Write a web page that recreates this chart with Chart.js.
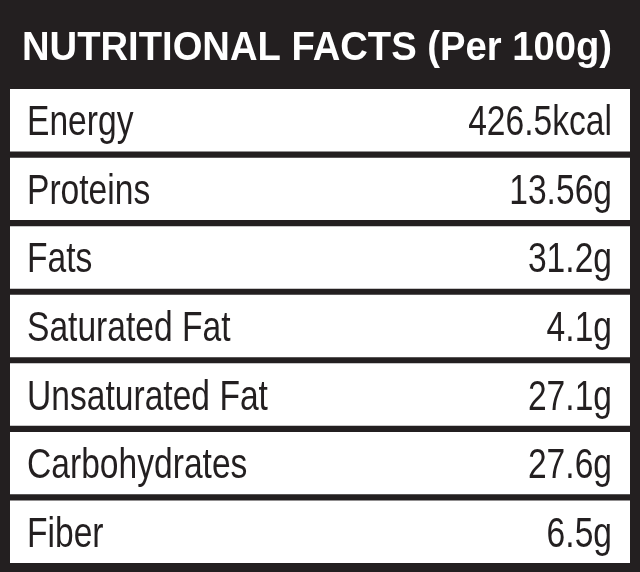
<!DOCTYPE html>
<html>
<head>
<meta charset="utf-8">
<script src="https://cdn.jsdelivr.net/npm/chart.js@4"></script>
<style>
  html, body { margin: 0; padding: 0; background: #231f20; }
  #wrap { width: 640px; height: 572px; }
</style>
</head>
<body>
<div id="wrap"><canvas id="c"></canvas></div>
<script>
var title = "NUTRITIONAL FACTS (Per 100g)";
var nutrients = ["Energy", "Proteins", "Fats", "Saturated Fat", "Unsaturated Fat", "Carbohydrates", "Fiber"];
var amounts = ["426.5kcal", "13.56g", "31.2g", "4.1g", "27.1g", "27.6g", "6.5g"];
var cellFill = [1, 1, 1, 1, 1, 1, 1];

// condensed text: squeeze horizontally around the anchor x
function narrowText(ctx, text, x, y, squeeze) {
    ctx.save();
    ctx.translate(x, y);
    ctx.scale(squeeze, 1);
    ctx.fillText(text, 0, 0);
    ctx.restore();
}

// draws header text and the label / value text in each cell
var tablePlugin = {
    id: 'tableText',
    afterDatasetsDraw: function (chart) {
        var ctx = chart.ctx;
        var y = chart.scales.y;
        ctx.save();
        ctx.fillStyle = '#ffffff';
        ctx.textBaseline = 'alphabetic';
        ctx.textAlign = 'left';
        ctx.font = 'bold 40px "Liberation Sans", sans-serif';
        ctx.fillText(title, 22, 60, 590);
        ctx.fillStyle = '#231f20';
        ctx.font = '42px "Liberation Sans", sans-serif';
        for (var i = 0; i < nutrients.length; i++) {
            var py = y.getPixelForValue(i) + 15;
            ctx.textAlign = 'left';
            narrowText(ctx, nutrients[i], 27, py, 0.8);
            ctx.textAlign = 'right';
            narrowText(ctx, amounts[i], 612, py, 0.8);
        }
        ctx.restore();
    }
};

new Chart(document.getElementById('c'), {
    type: 'bar',
    data: {
        labels: nutrients,
        datasets: [{
            data: cellFill,
            backgroundColor: '#ffffff',
            borderWidth: 0,
            barPercentage: 0.91,
            categoryPercentage: 1
        }]
    },
    options: {
        indexAxis: 'y',
        responsive: true,
        maintainAspectRatio: false,
        animation: false,
        layout: { padding: { top: 86, bottom: 6, left: 10, right: 10 } },
        scales: {
            x: { display: false, min: 0, max: 1 },
            y: { display: false }
        },
        plugins: { legend: { display: false }, tooltip: { enabled: false } }
    },
    plugins: [tablePlugin]
});
</script>
</body>
</html>
